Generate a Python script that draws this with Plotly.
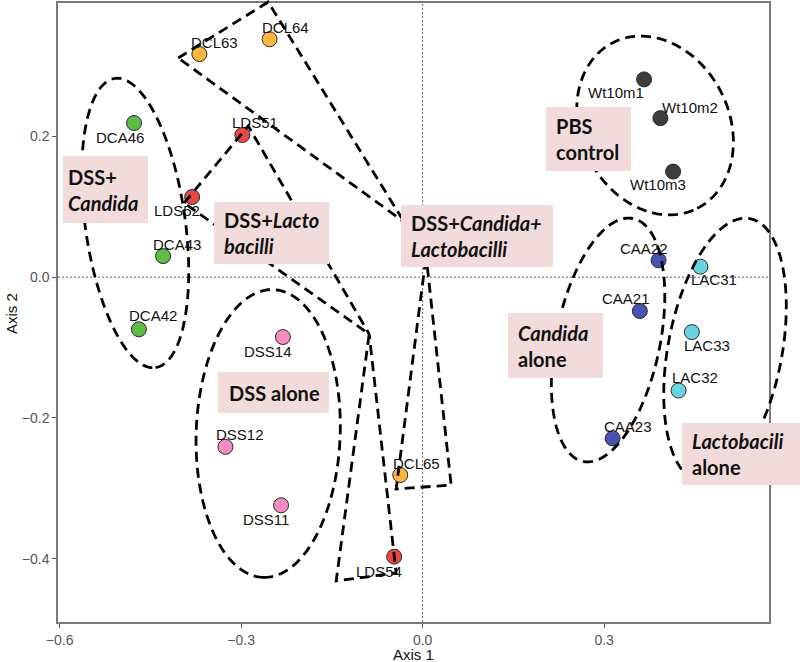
import numpy as np
import plotly.graph_objects as go

# ---------------- data ----------------
samples = ["DCA46", "DCA43", "DCA42",
           "LDS51", "LDS52", "LDS54",
           "DCL63", "DCL64", "DCL65",
           "DSS14", "DSS12", "DSS11",
           "Wt10m1", "Wt10m2", "Wt10m3",
           "CAA22", "CAA21", "CAA23",
           "LAC31", "LAC33", "LAC32"]
axis1 = [-0.477, -0.429, -0.469,
         -0.298, -0.381, -0.047,
         -0.369, -0.253, -0.037,
         -0.231, -0.326, -0.234,
         0.366, 0.393, 0.414,
         0.390, 0.359, 0.314,
         0.459, 0.445, 0.423]
axis2 = [0.219, 0.030, -0.074,
         0.202, 0.114, -0.397,
         0.317, 0.338, -0.281,
         -0.085, -0.241, -0.324,
         0.281, 0.226, 0.150,
         0.024, -0.048, -0.229,
         0.015, -0.078, -0.161]
groups = ["DCA"] * 3 + ["LDS"] * 3 + ["DCL"] * 3 + ["DSS"] * 3 + ["Wt"] * 3 + ["CAA"] * 3 + ["LAC"] * 3

# ---------------- styles ----------------
group_colors = {"DCA": "#5DBB46", "LDS": "#E8474A", "DCL": "#FDB73F", "DSS": "#F48EC1",
                "Wt": "#3D3D3D", "CAA": "#4852B0", "LAC": "#69D3E0"}
# label offsets in px (dx right, dy down)
label_offsets = {
    "DCA46": (-14, 14), "DCA43": (14, -12), "DCA42": (14, -14),
    "LDS51": (13, -12), "LDS52": (-15, 14), "LDS54": (-15, 15),
    "DCL63": (15, -12), "DCL64": (16, -12), "DCL65": (16, -12),
    "DSS14": (-15, 14), "DSS12": (15, -12), "DSS11": (-15, 14),
    "Wt10m1": (-28, 13), "Wt10m2": (30, -11), "Wt10m3": (-15, 13),
    "CAA22": (-15, -12), "CAA21": (-14, -12), "CAA23": (15, -12),
    "LAC31": (14, 13), "LAC33": (15, 13), "LAC32": (16, -13),
}

W, H = 800, 662
ML, MR, MT, MB = 58, 31, 3, 40
PW, PH = W - ML - MR, H - MT - MB
XR = [-0.6027, 0.5725]
YR = [-0.4898, 0.3895]
SX = PW / (XR[1] - XR[0])
SY = PH / (YR[1] - YR[0])


def px2paper(px, py):
    return (px - ML) / PW, (H - MB - py) / PH


def d2p(x, y):
    return (x - XR[0]) / (XR[1] - XR[0]), (y - YR[0]) / (YR[1] - YR[0])


def path_from(xs, ys):
    pts = [d2p(x, y) for x, y in zip(xs, ys)]
    return "M " + " L ".join(f"{x:.5f},{y:.5f}" for x, y in pts) + " Z"


def ellipse_path(cx, cy, a, b, phi_deg, n=180):
    phi = np.radians(phi_deg)
    t = np.linspace(0, 2 * np.pi, n, endpoint=False)
    ux, uy = np.sin(phi), np.cos(phi)
    vx, vy = np.cos(phi), -np.sin(phi)
    px = a * np.cos(t) * ux + b * np.sin(t) * vx
    py = a * np.cos(t) * uy + b * np.sin(t) * vy
    return path_from(cx + px / SX, cy - py / SY)


def poly_path(pts):
    return path_from([p[0] for p in pts], [p[1] for p in pts])


fig = go.Figure()
for g in ["DCA", "LDS", "DCL", "DSS", "Wt", "CAA", "LAC"]:
    idx = [i for i, gg in enumerate(groups) if gg == g]
    fig.add_trace(go.Scatter(
        x=[axis1[i] for i in idx], y=[axis2[i] for i in idx],
        mode="markers",
        marker=dict(size=15, color=group_colors[g], line=dict(color="#2b2b2b", width=1)),
        showlegend=False, hoverinfo="skip"))

shapes = []
# zero lines
shapes.append(dict(type="line", xref="x", yref="paper", x0=0, x1=0, y0=0, y1=1,
                   line=dict(color="#666666", width=1, dash="2px,2px"), layer="below"))
shapes.append(dict(type="line", xref="paper", yref="y", x0=0, x1=1, y0=0, y1=0,
                   line=dict(color="#666666", width=1, dash="2px,2px"), layer="below"))

dash_line = dict(color="black", width=2.8, dash="10px,6px")
# ellipses: centre (data), semi-axes (px), tilt from vertical (deg)
ellipses = [
    (-0.4751, 0.0770, 146, 50, 8),     # DSS + Candida
    (-0.2553, -0.2220, 144, 72, -2),   # DSS alone
    (0.3842, 0.2155, 93, 74, 27),      # PBS control
    (0.3065, -0.0892, 124, 52, -11.6), # Candida alone
    (0.4998, -0.1038, 134, 57, -10.7), # Lactobacili alone
]
for e in ellipses:
    shapes.append(dict(type="path", xref="paper", yref="paper", path=ellipse_path(*e),
                       line=dash_line, layer="above"))

# DSS+Candida+Lactobacilli outline
dcl_poly = [(-0.4040, 0.3114), (-0.2553, 0.3909), (-0.0306, 0.0784), (0.0058, 0.0301),
            (0.0471, -0.2952), (-0.0438, -0.3009), (0.0058, 0.0301), (-0.0306, 0.0784)]
shapes.append(dict(type="path", xref="paper", yref="paper", path=poly_path(dcl_poly),
                   line=dash_line, layer="above"))
# DSS+Lactobacilli outline
lds_poly = [(-0.3941, 0.1054), (-0.2883, 0.2148), (-0.0884, -0.0807), (-0.0438, -0.4202),
            (-0.1429, -0.4315), (-0.0884, -0.0807)]
shapes.append(dict(type="path", xref="paper", yref="paper", path=poly_path(lds_poly),
                   line=dash_line, layer="above"))

# group label boxes (px: left, top, right, bottom, text-left)
boxes = [
    ((63, 156, 148, 223, 66), "<b>DSS+<br><i>Candida</i></b>"),
    ((214, 202, 329, 264, 222), "<b>DSS+<i>Lacto</i><br><i>bacilli</i></b>"),
    ((401, 205, 553, 267, 409), "<b>DSS+<i>Candida+</i><br><i>Lactobacilli</i></b>"),
    ((546, 107, 631, 171, 554), "<b>PBS<br>control</b>"),
    ((508, 313, 603, 378, 516), "<b><i>Candida</i><br>alone</b>"),
    ((218, 372, 329, 413, 227), "<b>DSS alone</b>"),
    ((682, 423, 800, 485, 690), "<b><i>Lactobacili</i><br>alone</b>"),
]
annotations = []
for (l, t, r, b, tl), txt in boxes:
    x0, y0 = px2paper(l, b)
    x1, y1 = px2paper(r, t)
    shapes.append(dict(type="rect", xref="paper", yref="paper", x0=x0, x1=x1, y0=y0, y1=y1,
                       fillcolor="#F2DCDB", line=dict(width=0), layer="above"))
    tx, ty = px2paper(tl, (t + b) / 2)
    annotations.append(dict(xref="paper", yref="paper", x=tx, y=ty, xanchor="left", yanchor="middle",
                            text=txt, showarrow=False, align="left",
                            font=dict(family="Lato", size=20, color="#111111")))

# point labels
for s, x, y in zip(samples, axis1, axis2):
    dx, dy = label_offsets[s]
    annotations.append(dict(x=x, y=y, xref="x", yref="y", text=s, showarrow=False,
                            xshift=dx, yshift=-dy, xanchor="center", yanchor="middle",
                            font=dict(family="Liberation Sans, Arial", size=15, color="#111111")))

# axis titles
annotations.append(dict(xref="paper", yref="paper", x=0.5, y=(622 - 655) / PH, text="Axis 1",
                        showarrow=False, xanchor="center", yanchor="middle",
                        font=dict(family="Liberation Sans, Arial", size=15, color="#111111")))
annotations.append(dict(xref="paper", yref="paper", x=(11 - ML) / PW, y=0.5 + (312.5 - 313) / PH,
                        text="Axis 2", showarrow=False, textangle=-90, xanchor="center", yanchor="middle",
                        font=dict(family="Liberation Sans, Arial", size=15, color="#111111")))

axis_common = dict(showgrid=False, zeroline=False, showline=True, mirror=True, automargin=False,
                   linecolor="#7a7a7a", linewidth=1.5, ticks="outside", ticklen=4,
                   tickcolor="#555555", tickwidth=1.2, tickformat=".1f",
                   tickfont=dict(family="Liberation Sans, Arial", size=14, color="#555555"))

fig.update_layout(
    width=W, height=H,
    margin=dict(l=ML, r=MR, t=MT, b=MB, autoexpand=False),
    paper_bgcolor="white", plot_bgcolor="white",
    xaxis=dict(range=XR, tickvals=[-0.6, -0.3, 0.0, 0.3], **axis_common),
    yaxis=dict(range=YR, tickvals=[-0.4, -0.2, 0.0, 0.2], **axis_common),
    shapes=shapes, annotations=annotations,
)

fig.write_html("out.html", config={"displayModeBar": False},
               post_script="document.body.style.margin='0px';document.body.style.overflow='hidden';")
